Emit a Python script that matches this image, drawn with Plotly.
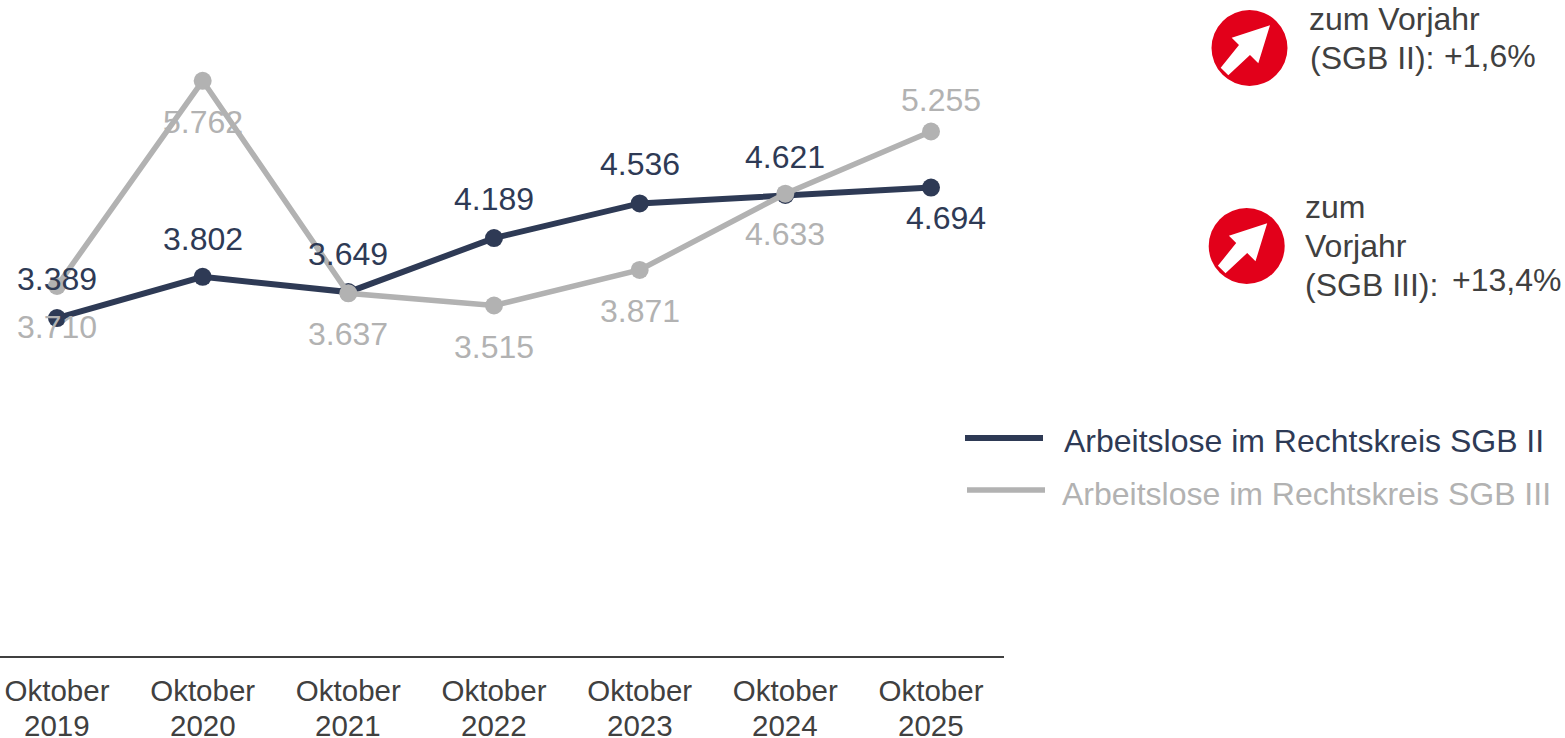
import plotly.graph_objects as go

W, H = 1565, 738
FONT = "Liberation Sans"
DARK = "#2E3A55"
GREY = "#B2B2B2"
TEXT = "#404040"
RED = "#E2001A"

months = ["Oktober"] * 7
years = ["2019", "2020", "2021", "2022", "2023", "2024", "2025"]
categories = [f"{m} {y}" for m, y in zip(months, years)]
sgb2 = [3389, 3802, 3649, 4189, 4536, 4621, 4694]
sgb3 = [3710, 5762, 3637, 3515, 3871, 4633, 5255]
sgb2_labels = ["3.389", "3.802", "3.649", "4.189", "4.536", "4.621", "4.694"]
sgb3_labels = ["3.710", "5.762", "3.637", "3.515", "3.871", "4.633", "5.255"]
sgb2_shift = [39, 38, 38, 39, 39, 38, -30]
sgb3_shift = [-41, -41, -41, -41, -41, -40, 32]
sgb2_xshift = [0, 0, 0, 0, 0, 0, 15]
sgb3_xshift = [0, 0, 0, 0, 0, 0, 10]
legend_names = ["Arbeitslose im Rechtskreis SGB II", "Arbeitslose im Rechtskreis SGB III"]


def px(x):
    return x / W


def py(y):
    return 1 - y / H


fig = go.Figure()
for name, vals, col, lw in [(legend_names[0], sgb2, DARK, 6), (legend_names[1], sgb3, GREY, 5.5)]:
    fig.add_trace(go.Scatter(x=categories, y=vals, mode="lines+markers", name=name,
                             line=dict(color=col, width=lw), marker=dict(color=col, size=18),
                             showlegend=False, cliponaxis=False))

ann = []
def note(text, x, y, color=TEXT, size=32, anchor="left"):
    ann.append(dict(text=text, x=px(x), y=py(y), xref="paper", yref="paper", xanchor=anchor,
                    yanchor="middle", showarrow=False, font=dict(family=FONT, size=size, color=color)))

for labels, vals, shifts, xshifts, col in [(sgb2_labels, sgb2, sgb2_shift, sgb2_xshift, DARK),
                                           (sgb3_labels, sgb3, sgb3_shift, sgb3_xshift, GREY)]:
    for c, v, l, s, xs in zip(categories, vals, labels, shifts, xshifts):
        ann.append(dict(text=l, x=c, y=v, xref="x", yref="y", yshift=s, xshift=xs, showarrow=False,
                        xanchor="center", yanchor="middle", font=dict(family=FONT, size=32, color=col)))

for c, y in zip(categories, years):
    ann.append(dict(text=y, x=c, xref="x", y=py(725), yref="paper", showarrow=False, xanchor="center",
                    yanchor="middle", font=dict(family=FONT, size=29.5, color=TEXT)))

note("zum Vorjahr", 1307, 19)
note("(SGB II):", 1308, 58)
note("+1,6%", 1442, 56)
note("zum", 1303, 207)
note("Vorjahr", 1303, 246)
note("(SGB III):", 1303, 285)
note("+13,4%", 1450, 280)
note(legend_names[0], 1062, 441, DARK)
note(legend_names[1], 1060, 494, GREY)

ARROW = [(20.5, -22.7), (-17.8, -10.3), (-10.5, -3), (-28.8, 19.7), (-21.2, 27.3), (0.5, 7), (8.8, 15.3)]
shapes = []
for cx, cy in [(1249.5, 48), (1246.7, 246)]:
    r = 38
    shapes.append(dict(type="circle", xref="paper", yref="paper", x0=px(cx - r), x1=px(cx + r),
                       y0=py(cy + r), y1=py(cy - r), fillcolor=RED, line=dict(width=0)))
    path = "M " + " L ".join(f"{px(cx + dx):.5f},{py(cy + dy):.5f}" for dx, dy in ARROW) + " Z"
    shapes.append(dict(type="path", xref="paper", yref="paper", path=path, fillcolor="white", line=dict(width=0)))

for x0, x1, y, col, lw in [(965, 1043, 438, DARK, 6), (967, 1045, 490, GREY, 5.5)]:
    shapes.append(dict(type="line", xref="paper", yref="paper", x0=px(x0), x1=px(x1), y0=py(y), y1=py(y),
                       line=dict(color=col, width=lw)))

step = (931 - 57) / 6
fig.update_layout(
    width=W, height=H, margin=dict(l=0, r=0, t=0, b=0),
    paper_bgcolor="white", plot_bgcolor="white", showlegend=False,
    annotations=ann, shapes=shapes,
    font=dict(family=FONT, color=TEXT),
    xaxis=dict(domain=[0, 1003.5 / W], type="category", categoryorder="array", categoryarray=categories,
               range=[-57 / step, (1003.5 - 57) / step], tickvals=categories, ticktext=months,
               tickfont=dict(family=FONT, size=29.5, color=TEXT), ticks="outside", ticklen=8,
               tickcolor="rgba(0,0,0,0)", showgrid=False, zeroline=False,
               showline=True, linecolor=TEXT, linewidth=2),
    yaxis=dict(domain=[1 - 656 / H, 1], range=[10, 6570], visible=False),
)
fig.write_html("out.html", config={"displayModeBar": False},
               post_script="document.body.style.margin='0';document.documentElement.style.overflow='hidden';")
